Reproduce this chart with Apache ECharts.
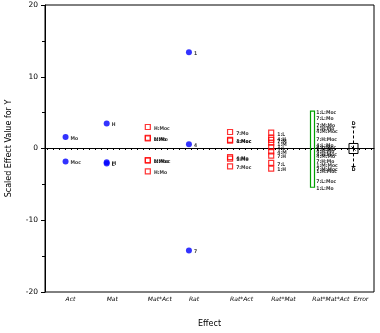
<!DOCTYPE html>
<html><head><meta charset="utf-8">
<script src="https://cdn.jsdelivr.net/npm/echarts@6/dist/echarts.min.js"></script>
<style>html,body{margin:0;padding:0;background:#fff}#c{width:380px;height:333px}</style>
</head><body><div id="c"></div>
<script>
var categories = ['Act','Mat','Mat*Act','Rat','Rat*Act','Rat*Mat','Rat*Mat*Act','Error'];
var yTicks = [-20,-10,0,10,20];
var refValue = 0;

var actVals = [1.6, -1.8];
var actLabels = ['Mo','Moc'];
var matVals = [3.5, -1.9, -2.1];
var matLabels = ['H','M','L'];
var ratVals = [13.4, 0.6, -14.2];
var ratLabels = ['1','4','7'];

var matActVals = [3.0, 1.5, 1.4, -1.6, -1.7, -3.2];
var matActLabels = ['H:Moc','M:Mo','L:Mo','L:Moc','M:Moc','H:Mo'];
var ratActVals = [2.3, 1.2, 1.1, -1.2, -1.4, -2.5];
var ratActLabels = ['7:Mo','1:Moc','4:Moc','4:Mo','1:Mo','7:Moc'];
var ratMatVals = [2.2, 1.5, 1.2, 0.8, 0.2, -0.4, -1.0, -2.0, -2.8];
var ratMatLabels = ['1:L','4:H','7:M','1:M','4:L','4:M','7:H','7:L','1:H'];

var ratMatActVals = [5.2, 4.4, 3.4, 3.0, 2.6, 1.5, 0.6, 0.3, 0.0, -0.3, -0.6, -0.9, -1.7, -2.2, -2.8, -3.0, -4.4, -5.4];
var ratMatActLabels = ['1:L:Moc','7:L:Mo','7:M:Mo','1:H:Mo','4:M:Moc','7:H:Moc','4:L:Mo','4:L:Moc','1:M:Mo','4:H:Mo','4:H:Moc','4:M:Mo','7:H:Mo','1:M:Moc','7:M:Moc','1:H:Moc','7:L:Moc','1:L:Mo'];

var errorBox = [-2.5, -0.7, 0.0, 0.7, 3.0]; // min, q1, median, q3, max
var errorMean = 0.0;
var errorExtremeLabels = ['D','D'];

var FONT = "'DejaVu Sans Condensed','Liberation Sans Narrow','DejaVu Sans',sans-serif";
function pts(cat, vals, labels){
  return vals.map(function(v,i){ return {value:[cat, v], name: labels[i]}; });
}
function lbl(dist){
  return {show:true, position:'right', distance:dist, offset:[0,1.5], formatter:'{b}',
    fontSize:5, fontWeight:'bold', color:'#000', fontFamily:FONT};
}

var blueData = [].concat(pts('Act',actVals,actLabels), pts('Mat',matVals,matLabels), pts('Rat',ratVals,ratLabels));
var redData = [].concat(pts('Mat*Act',matActVals,matActLabels), pts('Rat*Act',ratActVals,ratActLabels), pts('Rat*Mat',ratMatVals,ratMatLabels));
var rmaData = pts('Rat*Mat*Act', ratMatActVals, ratMatActLabels);

var chart = echarts.init(document.getElementById('c'), null, {renderer:'canvas'});
var option = {
  animation:false,
  grid:{left:45, right:6, top:5, bottom:41, show:true, borderColor:'#000', borderWidth:1,
    containLabel:false, outerBoundsMode:'none'},
  xAxis:{type:'category', data:categories, boundaryGap:true,
    name:'Effect', nameLocation:'middle', nameGap:28,
    nameTextStyle:{fontSize:8, color:'#000', fontFamily:'DejaVu Sans'},
    axisLine:{lineStyle:{color:'#000', width:1}},
    axisTick:{alignWithLabel:true, length:4, lineStyle:{color:'#000'}},
    axisLabel:{fontSize:6, fontStyle:'italic', color:'#000', margin:4, align:'left', fontFamily:'DejaVu Sans', interval:0},
    splitLine:{show:false}},
  yAxis:{type:'value', min:-20, max:20, interval:10,
    name:'Scaled Effect Value for Y', nameLocation:'middle', nameGap:32,
    nameTextStyle:{fontSize:8, color:'#000', fontFamily:'DejaVu Sans'},
    axisLine:{show:true, lineStyle:{color:'#000'}},
    axisTick:{show:true, length:4, lineStyle:{color:'#000'}},
    minorTick:{show:true, splitNumber:2, length:3, lineStyle:{color:'#000'}},
    axisLabel:{fontSize:7.5, color:'#000', margin:7, fontFamily:'DejaVu Sans'},
    splitLine:{show:false}},
  series:[
    {type:'custom', data:[[refValue]], silent:true, z:1,
      renderItem:function(params, api){
        var cs = params.coordSys;
        var y = Math.round(api.coord([0, api.value(0)])[1]) + 0.5;
        return {type:'line', shape:{x1:cs.x+2, y1:y, x2:cs.x+cs.width, y2:y},
          style:{stroke:'#000', lineWidth:1, lineDash:[1,5]}};
      }},
    {type:'scatter', data:blueData, symbol:'circle', symbolSize:6,
      itemStyle:{color:'#0000ff'}, label:lbl(2)},
    {type:'scatter', data:redData, symbol:'rect', symbolSize:[5,5],
      itemStyle:{color:'rgba(0,0,0,0)', borderColor:'#ff0000', borderWidth:1.2}, label:lbl(3)},
    {type:'custom', data:[['Rat*Mat*Act', Math.min.apply(null, ratMatActVals), Math.max.apply(null, ratMatActVals)]],
      renderItem:function(params, api){
        var lo = api.coord([api.value(0), api.value(1)]);
        var hi = api.coord([api.value(0), api.value(2)]);
        return {type:'rect', shape:{x:Math.round(lo[0])-1.5, y:hi[1], width:4, height:lo[1]-hi[1]},
          style:{fill:'none', stroke:'#00a000', lineWidth:1.2}};
      }},
    {type:'scatter', data:rmaData, symbolSize:0, label:lbl(4)},
    {type:'custom', data:[['Error'].concat(errorBox).concat([errorMean])],
      renderItem:function(params, api){
        var c = api.value(0);
        var p = [1,2,3,4,5,6].map(function(k){ return api.coord([c, api.value(k)]); });
        var x = Math.round(p[0][0]) + 0.5, w = 9;
        var st = {stroke:'#000', lineWidth:1, fill:'none'};
        var ds = {stroke:'#000', lineWidth:1, lineDash:[3,2]};
        return {type:'group', children:[
          {type:'line', shape:{x1:x, y1:p[3][1], x2:x, y2:p[4][1]}, style:ds},
          {type:'line', shape:{x1:x, y1:p[0][1], x2:x, y2:p[1][1]}, style:ds},
          {type:'line', shape:{x1:x-2, y1:p[4][1], x2:x+2, y2:p[4][1]}, style:st},
          {type:'line', shape:{x1:x-2, y1:p[0][1], x2:x+2, y2:p[0][1]}, style:st},
          {type:'rect', shape:{x:x-w/2, y:p[3][1], width:w, height:p[1][1]-p[3][1]}, style:st},
          {type:'line', shape:{x1:x-w/2, y1:p[2][1], x2:x+w/2, y2:p[2][1]}, style:st},
          {type:'line', shape:{x1:x-2, y1:p[5][1]-2, x2:x+2, y2:p[5][1]+2}, style:st},
          {type:'line', shape:{x1:x, y1:p[5][1]-3, x2:x, y2:p[5][1]+3}, style:st},
          {type:'text', style:{text:errorExtremeLabels[0], x:x, y:p[4][1]-1, align:'center', verticalAlign:'bottom', fontSize:5, fontWeight:'bold', fill:'#000', fontFamily:FONT}},
          {type:'text', style:{text:errorExtremeLabels[1], x:x, y:p[0][1]+1, align:'center', verticalAlign:'top', fontSize:5, fontWeight:'bold', fill:'#000', fontFamily:FONT}}
        ]};
      }}
  ]
};
chart.setOption(option);
</script></body></html>
